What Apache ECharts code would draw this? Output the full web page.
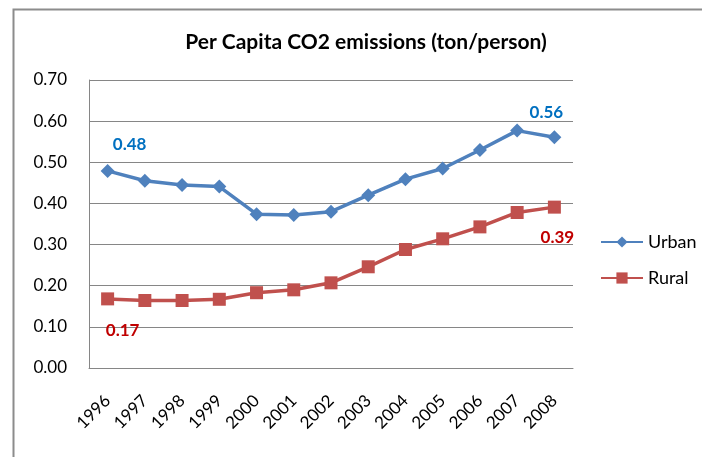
<!DOCTYPE html>
<html>
<head>
<meta charset="utf-8">
<script src="https://cdn.jsdelivr.net/npm/echarts@6/dist/echarts.min.js"></script>
<style>html,body{margin:0;padding:0;background:#fff;}#c{width:702px;height:457px;}</style>
</head>
<body>
<div id="c"></div>
<script>
var years = ['1996','1997','1998','1999','2000','2001','2002','2003','2004','2005','2006','2007','2008'];
var urban = [0.479, 0.455, 0.445, 0.441, 0.374, 0.372, 0.380, 0.420, 0.459, 0.485, 0.530, 0.577, 0.561];
var rural = [0.168, 0.164, 0.164, 0.167, 0.183, 0.190, 0.207, 0.246, 0.288, 0.314, 0.343, 0.378, 0.391];
var yTicks = {min: 0, max: 0.7, interval: 0.1};

var FONT = 'Lato';
function withLabels(arr, color, firstOff, lastOff) {
  return arr.map(function (v, i) {
    if (i === 0 || i === arr.length - 1) {
      return {
        value: v,
        label: {
          show: true, position: 'inside', offset: i === 0 ? firstOff : lastOff,
          formatter: function (p) { return p.value.toFixed(2); },
          color: color, fontFamily: FONT, fontWeight: 'bold', fontSize: 17
        }
      };
    }
    return v;
  });
}

var chart = echarts.init(document.getElementById('c'), null, {renderer: 'canvas'});
chart.setOption({
  animation: false,
  backgroundColor: '#fff',
  graphic: [{
    type: 'rect', left: 11, top: 7, shape: {width: 760, height: 520},
    style: {fill: 'none', stroke: '#8c8c8c', lineWidth: 2}, silent: true, z: -1
  }],
  title: {
    text: 'Per Capita CO2 emissions (ton/person)',
    left: 361, textAlign: 'center', top: 27,
    textStyle: {fontFamily: FONT, fontSize: 21, fontWeight: 'bold', color: '#000'}
  },
  legend: {
    orient: 'vertical', left: 595, top: 228,
    itemWidth: 42, itemHeight: 14, itemGap: 18,
    textStyle: {fontFamily: FONT, fontSize: 18, color: '#000'},
    data: ['Urban', 'Rural']
  },
  grid: {left: 89, right: 129, top: 80, bottom: 89, containLabel: false},
  xAxis: {
    type: 'category', data: years, boundaryGap: true,
    axisLine: {lineStyle: {color: '#868686', width: 1}},
    axisTick: {show: false},
    axisLabel: {rotate: 45, margin: 30, fontFamily: FONT, fontSize: 17, color: '#000', interval: 0}
  },
  yAxis: {
    type: 'value', min: yTicks.min, max: yTicks.max, interval: yTicks.interval,
    axisLine: {show: true, lineStyle: {color: '#868686', width: 1}},
    axisTick: {show: false},
    splitLine: {lineStyle: {color: '#868686', width: 1}},
    axisLabel: {margin: 22, fontFamily: FONT, fontSize: 17, color: '#000',
      formatter: function (v) { return v.toFixed(2); }}
  },
  series: [{
    name: 'Urban', type: 'line', data: withLabels(urban, '#0070C0', [22, -26], [-8, -25]),
    symbol: 'diamond', symbolSize: 14,
    itemStyle: {color: '#4F81BD'}, lineStyle: {color: '#4F81BD', width: 3.5}
  }, {
    name: 'Rural', type: 'line', data: withLabels(rural, '#C00000', [15, 32], [3, 30]),
    symbol: 'rect', symbolSize: 13,
    itemStyle: {color: '#C0504D'}, lineStyle: {color: '#C0504D', width: 3.5}
  }]
});
</script>
</body>
</html>
